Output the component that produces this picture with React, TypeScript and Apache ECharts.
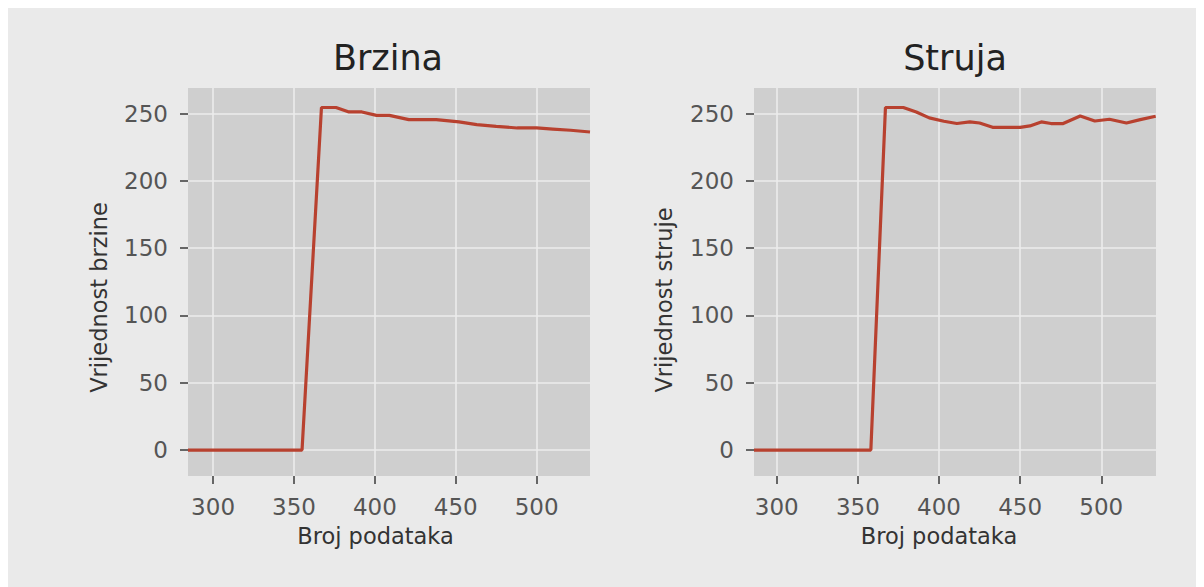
import React, { useEffect, useRef } from "react";
import * as echarts from "echarts";

const brzinaX = [284.5, 300, 320, 340, 355, 367, 376, 384, 392, 401, 409, 421, 438, 452, 463, 475, 488, 500, 510, 521, 533];
const brzinaY = [0, 0, 0, 0, 0, 254.5, 254.5, 251.2, 251.2, 248.7, 248.7, 245.5, 245.5, 243.8, 241.8, 240.5, 239.3, 239.3, 238.5, 237.6, 236.3];

const strujaX = [286, 300, 320, 340, 358, 367, 378, 386, 394, 403, 411, 419, 425, 433, 450, 456, 463, 469, 476.5, 487, 496, 505, 515.5, 524, 533.5];
const strujaY = [0, 0, 0, 0, 0, 254.5, 254.5, 251.2, 246.8, 244.3, 242.6, 243.8, 243, 239.8, 239.8, 240.8, 243.8, 242.6, 242.6, 248.2, 244.5, 245.8, 243, 245.5, 248];

const xTicks = [300, 350, 400, 450, 500];
const yTicks = [0, 50, 100, 150, 200, 250];

const titles = ["Brzina", "Struja"];
const xLabel = "Broj podataka";
const yLabels = ["Vrijednost brzine", "Vrijednost struje"];

const FONT = "DejaVu Sans";
const LINE = "#b8412f";

export default function App() {
  const ref = useRef<HTMLDivElement>(null);
  useEffect(() => {
    if (!ref.current) return;
    const chart = echarts.init(ref.current, undefined, { renderer: "svg" });
    const mkX = (idx: number, min: number, max: number) => ({
      type: "value",
      gridIndex: idx,
      min,
      max,
      axisLine: { show: false, onZero: false },
      axisTick: { show: true, length: 8, inside: false, customValues: xTicks, lineStyle: { color: "#666", width: 2 } },
      axisLabel: { customValues: xTicks, margin: 19, fontSize: 23, fontFamily: FONT, color: "#555" },
      splitLine: { show: true, lineStyle: { color: "#ececec", width: 1.6 } },
    });
    const mkY = (idx: number) => ({
      type: "value",
      gridIndex: idx,
      min: -19.3,
      max: 269,
      axisLine: { show: false, onZero: false },
      axisTick: { show: true, length: 8, inside: false, customValues: yTicks, lineStyle: { color: "#666", width: 2 } },
      axisLabel: { customValues: yTicks, margin: 20, fontSize: 23, fontFamily: FONT, color: "#555" },
      splitLine: { show: true, lineStyle: { color: "#ececec", width: 1.6 } },
    });
    const toPairs = (xs: number[], ys: number[]) => xs.map((x, i) => [x, ys[i]]);
    chart.setOption({
      animation: false,
      backgroundColor: "#eaeaea",
      grid: [
        { left: 180, top: 80, width: 402, height: 388, show: true, backgroundColor: "#cfcfcf", borderWidth: 0 },
        { left: 746, top: 80, width: 402, height: 388, show: true, backgroundColor: "#cfcfcf", borderWidth: 0 },
      ],
      xAxis: [mkX(0, 284.5, 533), mkX(1, 286, 533.7)],
      yAxis: [mkY(0), mkY(1)],
      series: [
        {
          type: "line",
          xAxisIndex: 0,
          yAxisIndex: 0,
          data: toPairs(brzinaX, brzinaY),
          showSymbol: false,
          lineStyle: { color: LINE, width: 3.2 },
          clip: true,
        },
        {
          type: "line",
          xAxisIndex: 1,
          yAxisIndex: 1,
          data: toPairs(strujaX, strujaY),
          showSymbol: false,
          lineStyle: { color: LINE, width: 3.2 },
          clip: true,
        },
      ],
      graphic: [
        { type: "text", x: 380, y: 50, style: { text: titles[0], fontSize: 35, fontFamily: FONT, fill: "#222", align: "center", verticalAlign: "middle" } },
        { type: "text", x: 947, y: 50, style: { text: titles[1], fontSize: 35, fontFamily: FONT, fill: "#222", align: "center", verticalAlign: "middle" } },
        { type: "text", x: 367.5, y: 528, style: { text: xLabel, fontSize: 22.5, fontFamily: FONT, fill: "#333", align: "center", verticalAlign: "middle" } },
        { type: "text", x: 931, y: 528, style: { text: xLabel, fontSize: 22.5, fontFamily: FONT, fill: "#333", align: "center", verticalAlign: "middle" } },
        { type: "text", x: 91, y: 289.5, rotation: Math.PI / 2, style: { text: yLabels[0], fontSize: 22.5, fontFamily: FONT, fill: "#333", align: "center", verticalAlign: "middle" } },
        { type: "text", x: 656, y: 292, rotation: Math.PI / 2, style: { text: yLabels[1], fontSize: 22.5, fontFamily: FONT, fill: "#333", align: "center", verticalAlign: "middle" } },
      ],
    });
    return () => chart.dispose();
  }, []);
  return <div ref={ref} style={{ width: 1196, height: 579 }} />;
}
